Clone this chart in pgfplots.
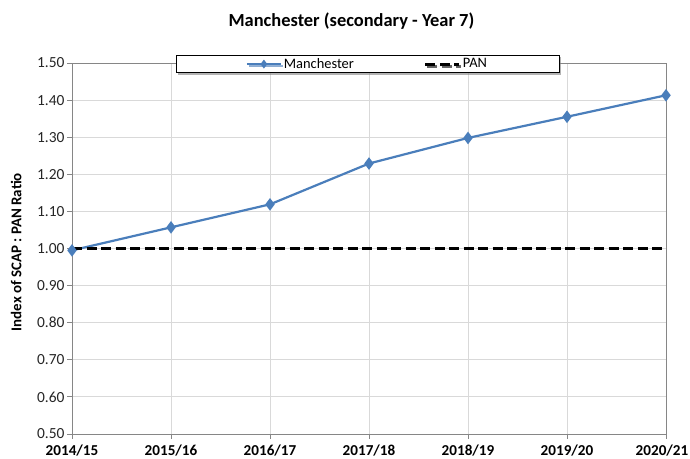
\documentclass[border=0pt]{standalone}
\usepackage{pgfplots}
\pgfplotsset{compat=1.18}
\usepackage{fontspec}
\setmainfont{Carlito}
\usetikzlibrary{shadows}
\definecolor{lineblue}{HTML}{4A7EBB}
\definecolor{gridgray}{HTML}{D9D9D9}
\definecolor{axgray}{HTML}{868686}
\begin{document}
\begin{tikzpicture}[x=1bp,y=1bp]
\useasboundingbox (0,0) rectangle (690,459);
\begin{axis}[
  at={(72bp,25bp)}, anchor=south west,
  scale only axis, width=594bp, height=371bp,
  xmin=0, xmax=6, ymin=0.5, ymax=1.5,
  xtick={0,1,2,3,4,5,6},
  xticklabels={2014/15,2015/16,2016/17,2017/18,2018/19,2019/20,\hspace*{-8bp}2020/21},
  ytick={0.5,0.6,0.7,0.8,0.9,1.0,1.1,1.2,1.3,1.4,1.5},
  yticklabel={\pgfmathprintnumber[fixed,fixed zerofill,precision=2]{\tick}},
  /pgf/number format/assume math mode=true,
  xticklabel style={font=\bfseries\fontsize{15.2}{15}\selectfont, text=black, yshift=-2bp},
  yticklabel style={font=\fontsize{15.5}{15}\selectfont, text=black!85, xshift=1bp},
  tick align=outside, xtick pos=bottom, ytick pos=left,
  major tick length=5bp,
  tick style={axgray, line width=0.8bp},
  axis line style={axgray, line width=0.8bp},
  grid=major, grid style={gridgray, line width=0.8bp},
  ylabel={\bfseries Index of SCAP : PAN Ratio},
  ylabel style={font=\fontsize{15}{15}\selectfont, at={(-0.079,0.49)}},
  title={\bfseries Manchester (secondary - Year 7)},
  title style={font=\fontsize{18.5}{18}\selectfont, at={(0.4705,1)}, yshift=24bp},
  legend columns=2,
  legend style={at={(0.4975,0.997)}, anchor=center, draw=black, line width=1bp,
    drop shadow={shadow xshift=2bp, shadow yshift=-2bp, opacity=0.6},
    font=\fontsize{14.5}{14}\selectfont, inner ysep=1bp, inner xsep=70bp,
    /tikz/every even column/.append style={column sep=68bp}},
  legend image code/.code={\draw[mark repeat=2,mark phase=2,#1] plot coordinates {(0bp,0bp) (17bp,0bp) (34bp,0bp)};},
]
\addplot[lineblue, line width=2.2bp, mark=diamond*, mark size=4.5bp, mark options={solid, fill=lineblue, draw=lineblue},
  legend image post style={line width=1.8bp, mark size=3bp}]
  coordinates {(0,0.995) (1,1.057) (2,1.119) (3,1.229) (4,1.298) (5,1.355) (6,1.413)};
\addlegendentry{Manchester}
\addplot[black, line width=3bp, dash pattern=on 10bp off 4.5bp]
  coordinates {(0,1.0) (1,1.0) (2,1.0) (3,1.0) (4,1.0) (5,1.0) (6,1.0)};
\addlegendentry{PAN}
\end{axis}
\end{tikzpicture}
\end{document}
